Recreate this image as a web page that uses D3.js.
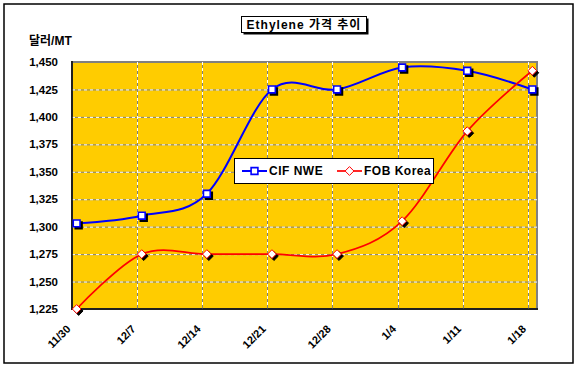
<!DOCTYPE html>
<html>
<head>
<meta charset="utf-8">
<script src="https://cdnjs.cloudflare.com/ajax/libs/d3/7.8.5/d3.min.js"></script>
<style>
  html, body { margin: 0; padding: 0; background: #fff; }
  svg { display: block; font-family: "Liberation Sans", Arial, "Noto Sans CJK KR", sans-serif; }
</style>
</head>
<body>
<svg></svg>
<script>
// weekly dates shown on the axis (month/day)
var dateLabels = ["11/30", "12/7", "12/14", "12/21", "12/28", "1/4", "1/11", "1/18"];
var cifNwe   = [1303, 1310, 1330, 1425, 1425, 1445, 1442, 1425];
var fobKorea = [1225, 1275, 1275, 1275, 1275, 1305, 1387, 1442];
var yTicks   = [1225, 1250, 1275, 1300, 1325, 1350, 1375, 1400, 1425, 1450];
var seriesNames = ["CIF NWE", "FOB Korea"];

var width = 578, height = 373;
var plot = { left: 72, right: 537, top: 62, bottom: 309 };

var svg = d3.select("svg")
  .attr("width", width)
  .attr("height", height);

// dates; points sit half a day past the week tick like the original sheet
var dates = dateLabels.map(s => {
  var p = s.split("/").map(Number);
  return new Date(p[0] >= 11 ? 2009 : 2010, p[0] - 1, p[1]);
});
var pointDate = d => new Date(d.getTime() + 12 * 3600 * 1000);

var x = d3.scaleTime()
  .domain([dates[0], d3.timeDay.offset(dates[dates.length - 1], 1)])
  .range([plot.left, plot.right]);

var y = d3.scaleLinear()
  .domain([1225, 1450])
  .range([plot.bottom, plot.top]);

// outer frame
svg.append("rect")
  .attr("x", 4).attr("y", 4)
  .attr("width", 569).attr("height", 359)
  .attr("fill", "#fff")
  .attr("stroke", "#000")
  .attr("stroke-width", 1.5);

// plot area
svg.append("rect")
  .attr("x", plot.left).attr("y", plot.top)
  .attr("width", plot.right - plot.left)
  .attr("height", plot.bottom - plot.top)
  .attr("fill", "#FFCC00")
  .attr("stroke", "#808080")
  .attr("stroke-width", 2);

// gridlines: grey with white dashes
var grid = svg.append("g").classed("grid", true);
var hLines = yTicks.filter(t => t > 1225 && t < 1450);
var vLines = dates.slice(1);

["#808080", "#fff"].forEach((c, i) => {
  grid.selectAll("line.h" + i)
    .data(hLines)
    .enter().append("line")
      .attr("class", "h" + i)
      .attr("x1", plot.left).attr("x2", plot.right)
      .attr("y1", d => y(d) + 0.5).attr("y2", d => y(d) + 0.5)
      .attr("stroke", c)
      .attr("stroke-width", 1)
      .attr("stroke-dasharray", i ? "3,3" : null);

  grid.selectAll("line.v" + i)
    .data(vLines)
    .enter().append("line")
      .attr("class", "v" + i)
      .attr("x1", d => Math.round(x(d)) + 0.5).attr("x2", d => Math.round(x(d)) + 0.5)
      .attr("y1", plot.top).attr("y2", plot.bottom)
      .attr("stroke", c)
      .attr("stroke-width", 1)
      .attr("stroke-dasharray", i ? "3,3" : null);
});

// axis lines
svg.append("line")
  .attr("x1", plot.left).attr("x2", plot.left)
  .attr("y1", plot.top - 1).attr("y2", plot.bottom + 1)
  .attr("stroke", "#000").attr("stroke-width", 1.5);
svg.append("line")
  .attr("x1", plot.left).attr("x2", plot.right + 1)
  .attr("y1", plot.bottom).attr("y2", plot.bottom)
  .attr("stroke", "#000").attr("stroke-width", 1.5);

// y labels
svg.append("g")
  .selectAll("text")
  .data(yTicks)
  .enter().append("text")
    .attr("x", 58)
    .attr("y", d => y(d))
    .attr("dy", "0.36em")
    .attr("text-anchor", "end")
    .attr("font-size", "11.5px")
    .attr("font-weight", "bold")
    .text(d3.format(","));

svg.append("text")
  .attr("x", 29).attr("y", 45)
  .attr("font-size", "12px")
  .attr("font-weight", "bold")
  .text("달러/MT");

// x labels, rotated
svg.append("g")
  .selectAll("text")
  .data(dates)
  .enter().append("text")
    .attr("transform", (d, i) => "translate(" + (x(d) - 3.5) + ",327) rotate(-45)")
    .attr("dy", "0.35em")
    .attr("text-anchor", "end")
    .attr("font-size", "11px")
    .attr("font-weight", "bold")
    .text((d, i) => dateLabels[i]);

// series
var line = d3.line()
  .x(d => x(pointDate(d.date)))
  .y(d => y(d.value))
  .curve(d3.curveCatmullRom.alpha(0));

var cifData = dates.map((d, i) => ({ date: d, value: cifNwe[i] }));
var fobData = dates.map((d, i) => ({ date: d, value: fobKorea[i] }));

var diamond = r => "M0," + (-r) + "L" + r + ",0L0," + r + "L" + (-r) + ",0Z";
var square = r => "M" + (-r) + "," + (-r) + "H" + r + "V" + r + "H" + (-r) + "Z";

function drawSeries(data, color, lw, shape, markerStroke) {
  var g = svg.append("g");
  g.append("path")
    .datum(data)
    .attr("d", line)
    .attr("fill", "none")
    .attr("stroke", color)
    .attr("stroke-width", lw);

  var m = g.selectAll("g.mk")
    .data(data)
    .enter().append("g")
      .attr("class", "mk")
      .attr("transform", d => "translate(" + x(pointDate(d.date)) + "," + y(d.value) + ")");
  m.append("path")
    .attr("d", shape)
    .attr("transform", "translate(2,2)")
    .attr("fill", "#000")
    .attr("stroke", "#000")
    .attr("stroke-width", markerStroke);
  m.append("path")
    .attr("d", shape)
    .attr("fill", "#fff")
    .attr("stroke", color)
    .attr("stroke-width", markerStroke);
}

drawSeries(cifData, "#0000FF", 2, square(3.4), 1.6);
drawSeries(fobData, "#FF0000", 1.7, diamond(4.4), 1);

// legend
var legend = svg.append("g");
legend.append("rect")
  .attr("x", 234.5).attr("y", 158.5)
  .attr("width", 199).attr("height", 25)
  .attr("fill", "#fff")
  .attr("stroke", "#000")
  .attr("stroke-width", 1);

var legendItems = [
  { name: seriesNames[0], color: "#0000FF", x: 242, shape: square(3.4), sw: 1.6, lw: 2 },
  { name: seriesNames[1], color: "#FF0000", x: 337, shape: diamond(4.4), sw: 1, lw: 1.7 }
];
var li = legend.selectAll("g.item")
  .data(legendItems)
  .enter().append("g")
    .attr("class", "item")
    .attr("transform", d => "translate(" + d.x + ",171)");
li.append("line")
  .attr("x1", 0).attr("x2", 25)
  .attr("stroke", d => d.color)
  .attr("stroke-width", d => d.lw);
li.append("path")
  .attr("d", d => d.shape)
  .attr("transform", "translate(12.5,0)")
  .attr("fill", "#fff")
  .attr("stroke", d => d.color)
  .attr("stroke-width", d => d.sw);
li.append("text")
  .attr("x", 27)
  .attr("dy", "0.36em")
  .attr("font-size", "12px")
  .attr("font-weight", "bold")
  .attr("letter-spacing", "0.5px")
  .text(d => d.name);

// title box
var title = svg.append("g");
title.append("rect")
  .attr("x", 243.5).attr("y", 18.5)
  .attr("width", 125).attr("height", 16)
  .attr("fill", "#000");
title.append("rect")
  .attr("x", 241.5).attr("y", 16.5)
  .attr("width", 125).attr("height", 16)
  .attr("fill", "#fff")
  .attr("stroke", "#000")
  .attr("stroke-width", 1);
title.append("text")
  .attr("x", 304).attr("y", 24.5)
  .attr("dy", "0.36em")
  .attr("text-anchor", "middle")
  .attr("font-size", "12px")
  .attr("font-weight", "bold")
  .attr("letter-spacing", "1px")
  .text("Ethylene 가격 추이");
</script>
</body>
</html>
